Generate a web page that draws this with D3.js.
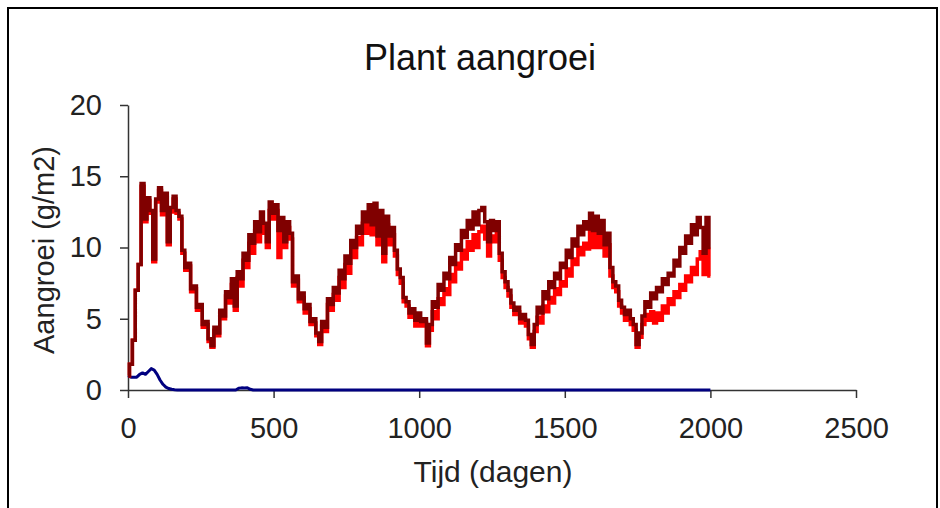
<!DOCTYPE html>
<html>
<head>
<meta charset="utf-8">
<script src="https://cdn.jsdelivr.net/npm/d3@7"></script>
<style>
  body { margin: 0; background: #fff; }
  svg { font-family: "Liberation Sans", Arial, sans-serif; }
  .axis path, .axis line { stroke: #333; stroke-width: 1.5px; }
  .axis text { font-size: 29px; fill: #222; }
</style>
</head>
<body>
<div id="chart"></div>
<script>

// Data, one value per 10 days (day 0 .. 2000)
var darkRedValues = [
  1.0, 1.8, 3.5, 7.0, 8.8, 14.5, 12.0, 13.5, 12.6, 9.2,
  13.4, 14.2, 12.6, 13.8, 10.4, 12.8, 13.6, 12.6, 12.2, 9.8,
  8.6, 8.9, 7.1, 7.3, 5.8, 6.0, 4.6, 4.8, 3.6, 3.1,
  4.4, 4.0, 5.6, 5.2, 6.9, 6.5, 7.8, 5.9, 8.3, 7.8,
  9.6, 9.1, 10.9, 10.3, 11.8, 11.1, 12.5, 11.7, 10.4, 13.2,
  12.4, 13.0, 11.2, 12.1, 10.4, 11.8, 11.0, 7.6, 8.0, 6.4,
  6.8, 5.7, 6.0, 4.8, 5.0, 4.0, 3.4, 4.8, 4.4, 6.4,
  6.0, 7.2, 6.8, 8.4, 7.8, 9.4, 8.9, 10.5, 10.0, 11.5,
  11.0, 12.5, 11.8, 13.0, 11.6, 13.1, 10.8, 12.6, 9.6, 12.2,
  10.8, 11.4, 9.8, 8.5, 7.9, 6.5, 6.2, 5.4, 5.7, 4.9,
  5.4, 4.8, 5.0, 3.3, 4.6, 6.2, 5.8, 7.4, 7.0, 8.2,
  7.8, 9.3, 8.8, 10.2, 9.8, 11.2, 10.7, 11.9, 11.3, 12.5,
  11.6, 12.6, 12.8, 11.8, 10.4, 11.9, 11.2, 11.8, 9.6, 8.3,
  7.6, 7.0, 6.1, 5.6, 5.8, 5.0, 5.3, 4.9, 3.9, 3.2,
  4.6, 5.8, 5.4, 6.9, 6.4, 7.6, 7.2, 8.2, 7.8, 8.9,
  8.6, 9.8, 9.3, 10.6, 10.1, 11.5, 10.9, 11.8, 11.3, 12.4,
  11.2, 12.2, 11.0, 11.9, 10.2, 11.0, 8.6, 7.6, 7.3, 6.3,
  5.8, 5.3, 5.6, 5.0, 4.6, 3.2, 4.0, 5.2, 6.2, 5.8,
  6.8, 6.4, 7.2, 6.9, 7.8, 7.4, 8.2, 8.0, 9.1, 8.7,
  10.0, 9.6, 10.8, 10.3, 11.6, 10.9, 12.1, 11.4, 9.6, 12.1,
  10.0
];

var redValues = [
  1.0, 1.8, 3.5, 7.0, 8.8, 14.3, 11.8, 13.3, 12.4, 9.0,
  13.2, 14.0, 12.3, 13.5, 10.2, 12.5, 13.4, 12.4, 12.0, 9.6,
  8.4, 8.7, 6.9, 7.1, 5.6, 5.8, 4.4, 4.6, 3.4, 3.0,
  4.2, 3.8, 5.4, 5.0, 6.6, 6.1, 7.4, 5.6, 7.9, 7.3,
  9.1, 8.6, 10.3, 9.6, 11.2, 10.4, 11.8, 11.0, 10.0, 12.6,
  12.0, 12.6, 9.3, 11.6, 10.0, 11.4, 10.6, 7.3, 7.7, 6.2,
  6.5, 5.4, 5.7, 4.6, 4.7, 3.8, 3.2, 4.5, 4.1, 6.0,
  5.6, 6.7, 6.3, 7.9, 7.2, 8.8, 8.2, 9.8, 9.3, 10.7,
  10.2, 11.7, 11.0, 12.3, 10.9, 12.5, 10.2, 12.0, 9.0, 11.6,
  10.2, 10.9, 9.4, 8.1, 7.5, 6.2, 5.9, 5.1, 5.3, 4.5,
  5.0, 4.5, 4.7, 3.1, 4.2, 5.5, 5.0, 6.4, 6.0, 7.1,
  6.7, 8.1, 7.6, 8.9, 8.5, 9.8, 9.2, 10.4, 9.8, 10.9,
  10.0, 11.1, 11.5, 10.6, 9.4, 10.8, 10.4, 11.0, 9.1, 7.9,
  7.2, 6.6, 5.8, 5.3, 5.5, 4.7, 5.0, 4.5, 3.6, 3.0,
  4.1, 5.1, 4.7, 5.9, 5.5, 6.5, 6.1, 7.1, 6.7, 7.6,
  7.3, 8.5, 8.0, 9.2, 8.8, 10.0, 9.5, 10.3, 9.9, 11.1,
  10.0, 11.0, 10.0, 10.9, 9.4, 10.2, 8.0, 7.2, 6.9, 5.9,
  5.4, 4.9, 5.2, 4.6, 4.2, 3.0, 3.7, 4.6, 5.3, 4.9,
  5.5, 4.7, 5.4, 4.9, 5.9, 5.4, 6.4, 6.0, 6.9, 6.5,
  7.4, 7.0, 8.0, 7.6, 8.6, 8.1, 9.2, 9.7, 8.1, 9.9,
  8.0
];

// blue series: points read where it changes, flat at zero in between
var blueDays   = [0, 10, 20, 30, 40, 50, 60, 70, 80, 90, 100, 110, 120, 130, 140, 150, 160, 170,
                  370, 380, 390, 400, 410, 420, 430, 2000];
var blueValues = [1.0, 0.9, 0.9, 0.9, 1.1, 1.2, 1.1, 1.3, 1.5, 1.4, 1.1, 0.7, 0.4, 0.2, 0.1, 0.05, 0.02, 0,
                  0, 0.12, 0.15, 0.14, 0.15, 0.05, 0, 0];

var xTicks = [0, 500, 1000, 1500, 2000, 2500];
var yTicks = [0, 5, 10, 15, 20];

var stepDays = d3.range(0, 2001, 10);

var redData = stepDays.map(function(d, i) { return { day: d, value: redValues[i] }; });
var darkRedData = stepDays.map(function(d, i) { return { day: d, value: darkRedValues[i] }; });
var blueData = blueDays.map(function(d, i) { return { day: d, value: blueValues[i] }; });

var width = 940, height = 508;
var margin = { top: 105, right: 84, bottom: 118, left: 128 };
var plotW = width - margin.left - margin.right,
    plotH = height - margin.top - margin.bottom;

var svg = d3.select("#chart").append("svg")
    .attr("width", width)
    .attr("height", height);

// outer frame
svg.append("rect")
    .attr("x", 8)
    .attr("y", 8)
    .attr("width", 929)
    .attr("height", 520)
    .attr("fill", "none")
    .attr("stroke", "#000")
    .attr("stroke-width", 2);

var g = svg.append("g")
    .attr("transform", "translate(" + margin.left + "," + margin.top + ")");

// Scales
var x = d3.scaleLinear().domain([0, 2500]).range([0, plotW]);
var y = d3.scaleLinear().domain([0, 20]).range([plotH, 0]);

// Axes
var xAxis = d3.axisBottom(x).tickValues(xTicks).tickFormat(d3.format("d"))
    .tickSize(8).tickPadding(19).tickSizeOuter(0);
var yAxis = d3.axisLeft(y).tickValues(yTicks).tickFormat(d3.format("d"))
    .tickSize(8).tickPadding(18).tickSizeOuter(0);

g.append("g")
    .attr("class", "axis x-axis")
    .attr("transform", "translate(0," + plotH + ")")
    .call(xAxis);
g.append("g")
    .attr("class", "axis y-axis")
    .call(yAxis);

// Lines - step shape gives the jagged look of the daily simulation output
var stepLine = d3.line()
    .curve(d3.curveStep)
    .x(function(d) { return x(d.day); })
    .y(function(d) { return y(d.value); });

var smoothLine = d3.line()
    .x(function(d) { return x(d.day); })
    .y(function(d) { return y(d.value); });

g.append("path")
    .datum(blueData)
    .attr("fill", "none")
    .attr("stroke", "#000080")
    .attr("stroke-width", 3)
    .attr("stroke-linejoin", "round")
    .attr("d", smoothLine);

g.append("path")
    .datum(redData)
    .attr("fill", "none")
    .attr("stroke", "#ff0000")
    .attr("stroke-width", 3.5)
    .attr("d", stepLine);

g.append("path")
    .datum(darkRedData)
    .attr("fill", "none")
    .attr("stroke", "#800000")
    .attr("stroke-width", 3.5)
    .attr("d", stepLine);

// Titles
svg.append("text")
    .attr("x", 480)
    .attr("y", 70)
    .attr("text-anchor", "middle")
    .style("font-size", "36px")
    .attr("fill", "#111")
    .text("Plant aangroei");

svg.append("text")
    .attr("x", 493)
    .attr("y", 482)
    .attr("text-anchor", "middle")
    .style("font-size", "30px")
    .attr("fill", "#222")
    .text("Tijd (dagen)");

svg.append("text")
    .attr("transform", "translate(54,250) rotate(-90)")
    .attr("text-anchor", "middle")
    .style("font-size", "29px")
    .attr("fill", "#222")
    .text("Aangroei (g/m2)");

</script>
</body>
</html>
